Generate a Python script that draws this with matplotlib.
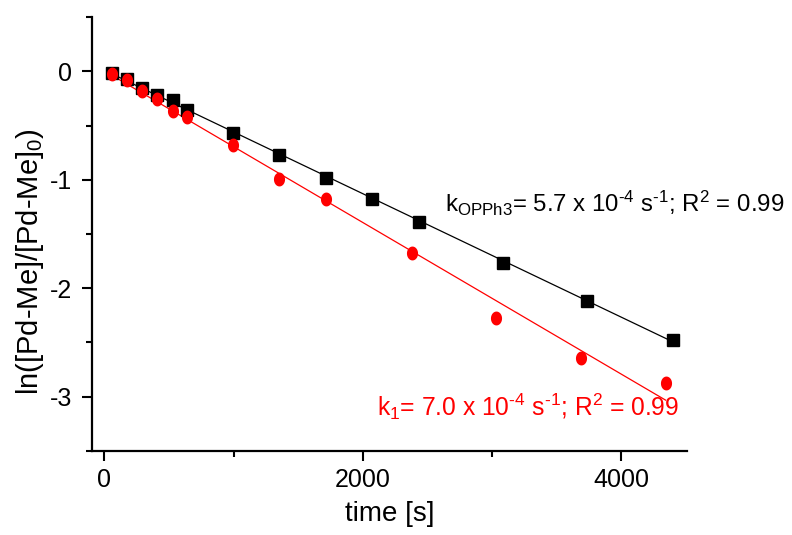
import numpy as np
import matplotlib
matplotlib.use("Agg")
import matplotlib.pyplot as plt
from matplotlib.path import Path
from matplotlib.ticker import MultipleLocator

plt.rcParams['font.family'] = ['Liberation Sans', 'DejaVu Sans']
plt.rcParams['mathtext.fontset'] = 'custom'
plt.rcParams['mathtext.rm'] = 'Liberation Sans'
plt.rcParams['mathtext.it'] = 'Liberation Sans:italic'
plt.rcParams['mathtext.bf'] = 'Liberation Sans:bold'
plt.rcParams['mathtext.default'] = 'regular'
plt.rcParams['axes.unicode_minus'] = False

# Kinetic data: ln([Pd-Me]/[Pd-Me]0) vs time
time_opph3 = [57, 174, 290, 408, 528, 642, 997, 1353, 1712, 2072, 2431, 3080, 3737, 4399]
ln_opph3 = [-0.01, -0.071, -0.157, -0.213, -0.264, -0.355, -0.565, -0.77, -0.983,
            -1.176, -1.389, -1.764, -2.119, -2.474]

time_1 = [57, 174, 290, 408, 528, 642, 997, 1353, 1712, 2377, 3027, 3684, 4341]
ln_1 = [-0.02, -0.081, -0.182, -0.253, -0.365, -0.421, -0.679, -0.994, -1.176,
        -1.673, -2.271, -2.646, -2.879]

# First-order rate constants (s^-1)
k_opph3 = 5.7e-4
k_1 = 7.0e-4

label_opph3 = r'k$_{OPPh3}$= 5.7 x 10$^{\text{-4}}$ s$^{\text{-1}}$; R$^{2}$ = 0.99'
label_1 = r'k$_{1}$= 7.0 x 10$^{\text{-4}}$ s$^{\text{-1}}$; R$^{2}$ = 0.99'

x_ticks = [0, 2000, 4000]
y_ticks = [0, -1, -2, -3]


def fit_line(t, y, k):
    t = np.asarray(t, float)
    y = np.asarray(y, float)
    b = y.mean() + k * t.mean()
    tt = np.linspace(t.min(), t.max(), 200)
    return tt, b - k * tt


# slightly tall elliptical marker
th = np.linspace(0, 2 * np.pi, 60)
ellipse = Path(np.column_stack([0.8 * np.cos(th), np.sin(th)]), closed=True)

fig = plt.figure(figsize=(7.92, 5.35), dpi=100)
ax = fig.add_axes([0.1162, 0.1576, 0.7509, 0.8101])

tx, ty = fit_line(time_opph3, ln_opph3, k_opph3)
ax.plot(tx, ty, color='black', lw=0.9, zorder=2)
tx, ty = fit_line(time_1, ln_1, k_1)
ax.plot(tx, ty, color='red', lw=0.9, zorder=2)

ax.plot(time_opph3, ln_opph3, ls='none', marker='s', ms=8, color='black',
        mec='black', zorder=3)
ax.plot(time_1, ln_1, ls='none', marker=ellipse, ms=10, color='red',
        mec='red', mew=0, zorder=4)

ax.set_xlim(-95, 4505)
ax.set_ylim(-3.5, 0.5)
ax.set_xticks(x_ticks)
ax.set_xticklabels([str(v) for v in x_ticks])
ax.set_yticks(y_ticks)
ax.set_yticklabels([str(v) for v in y_ticks])
ax.xaxis.set_minor_locator(MultipleLocator(1000))
ax.yaxis.set_minor_locator(MultipleLocator(0.5))

for s in ['top', 'right']:
    ax.spines[s].set_visible(False)
for s in ['left', 'bottom']:
    ax.spines[s].set_linewidth(1.6)

ax.tick_params(which='major', direction='out', length=7.5, width=1.5,
               labelsize=18)
ax.tick_params(axis='x', which='major', pad=5)
ax.tick_params(axis='y', which='major', pad=7)
ax.tick_params(which='minor', direction='out', length=4.5, width=1.5)

ax.set_xlabel('time [s]', fontsize=20)
ax.set_ylabel(r'ln([Pd-Me]/[Pd-Me]$_{0}$)', fontsize=21)
ax.xaxis.set_label_coords(0.5, -0.115)
ax.yaxis.set_label_coords(-0.078, 0.437)

ax.text(2635, -1.293, label_opph3, fontsize=17.3, color='black',
        ha='left', va='baseline', clip_on=False)
ax.text(2106, -3.18, label_1, fontsize=17.7, color='red',
        ha='left', va='baseline', clip_on=False)

fig.savefig('out.png', dpi=100)
